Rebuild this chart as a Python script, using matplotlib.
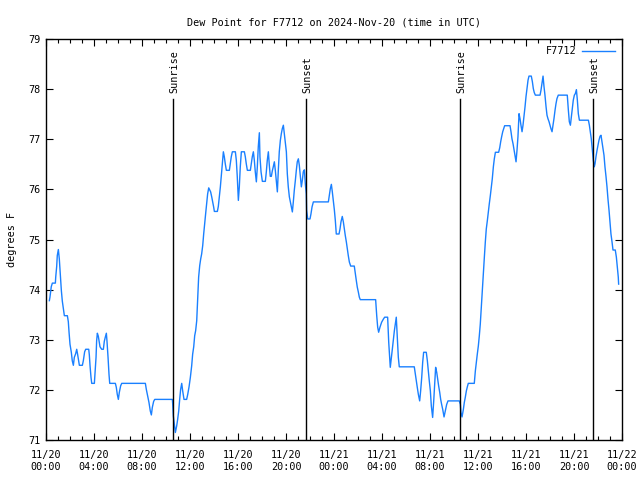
import matplotlib
matplotlib.use("Agg")
import matplotlib.pyplot as plt

# hours since 2024-11-20 00:00 UTC, dew point in deg F
hours = [
    0.28, 0.33, 0.44, 0.53, 0.78, 0.81, 0.89, 0.94, 1.03, 1.11, 1.19, 1.28, 1.36, 1.44, 1.53, 1.78,
    1.86, 1.92, 2.00, 2.11, 2.19, 2.28, 2.36, 2.47, 2.56, 2.64, 2.78, 3.03, 3.11, 3.22, 3.31, 3.56,
    3.61, 3.67, 3.75, 3.81, 4.03, 4.08, 4.17, 4.22, 4.28, 4.36, 4.42, 4.50, 4.64, 4.78, 4.86, 4.94,
    5.03, 5.08, 5.17, 5.25, 5.31, 5.78, 5.86, 5.94, 6.03, 6.11, 6.22, 6.31, 8.28, 8.36, 8.47, 8.58,
    8.69, 8.78, 8.86, 8.97, 9.06, 10.53, 10.56, 10.61, 10.78, 10.89, 10.97, 11.06, 11.14, 11.22, 11.31,
    11.39, 11.50, 11.72, 11.81, 11.92, 12.03, 12.14, 12.22, 12.31, 12.39, 12.47, 12.56, 12.64, 12.72,
    12.81, 12.89, 12.97, 13.06, 13.14, 13.22, 13.31, 13.39, 13.47, 13.56, 13.64, 13.72, 13.81, 13.89,
    13.97, 14.03, 14.28, 14.36, 14.44, 14.53, 14.61, 14.69, 14.78, 14.86, 14.94, 15.03, 15.28, 15.36,
    15.44, 15.53, 15.78, 15.86, 15.94, 16.03, 16.11, 16.19, 16.28, 16.53, 16.61, 16.69, 16.78, 17.03,
    17.11, 17.19, 17.28, 17.36, 17.44, 17.53, 17.61, 17.69, 17.78, 17.83, 17.92, 18.03, 18.28, 18.36,
    18.44, 18.53, 18.61, 18.69, 18.78, 18.86, 18.94, 19.03, 19.11, 19.19, 19.28, 19.36, 19.44, 19.53,
    19.61, 19.69, 19.78, 19.86, 19.94, 20.03, 20.11, 20.19, 20.28, 20.44, 20.53, 20.61, 20.69, 20.78,
    20.86, 20.94, 21.03, 21.11, 21.19, 21.28, 21.36, 21.44, 21.53, 21.61, 21.69, 21.72, 21.81, 22.00,
    22.08, 22.17, 22.28, 23.53, 23.61, 23.69, 23.78, 23.86, 23.94, 24.03, 24.11, 24.19, 24.42, 24.50,
    24.58, 24.69, 24.78, 24.86, 24.94, 25.03, 25.11, 25.19, 25.28, 25.39, 25.69, 25.78, 25.86, 25.94,
    26.03, 26.11, 26.19, 27.47, 27.56, 27.64, 27.72, 27.83, 27.97, 28.11, 28.22, 28.47, 28.56, 28.64,
    28.69, 28.78, 28.86, 28.94, 29.03, 29.11, 29.19, 29.28, 29.36, 29.44, 30.69, 30.78, 30.86, 30.94,
    31.03, 31.14, 31.22, 31.31, 31.39, 31.47, 31.69, 31.78, 31.86, 31.94, 32.03, 32.11, 32.22, 32.31,
    32.39, 32.47, 32.56, 32.64, 32.72, 32.81, 32.89, 32.97, 33.06, 33.17, 33.28, 33.39, 33.50, 34.44,
    34.53, 34.58, 34.67, 34.78, 34.86, 34.94, 35.03, 35.11, 35.19, 35.69, 35.78, 35.86, 35.94, 36.03,
    36.11, 36.19, 36.28, 36.36, 36.44, 36.53, 36.61, 36.69, 36.78, 36.86, 36.94, 37.03, 37.11, 37.19,
    37.28, 37.36, 37.45, 37.72, 37.81, 37.89, 37.97, 38.06, 38.14, 38.22, 38.67, 38.75, 38.83, 38.92,
    39.00, 39.08, 39.17, 39.25, 39.33, 39.42, 39.50, 39.58, 39.67, 39.75, 39.83, 39.92, 40.00, 40.08,
    40.17, 40.25, 40.44, 40.53, 40.61, 40.69, 40.78, 41.17, 41.25, 41.33, 41.42, 41.50, 41.58, 41.67,
    41.75, 41.83, 41.92, 42.00, 42.08, 42.17, 42.25, 42.33, 42.42, 42.50, 42.58, 42.69, 43.44, 43.53,
    43.61, 43.70, 43.78, 43.86, 43.94, 44.03, 44.11, 44.20, 44.28, 44.36, 44.45, 45.20, 45.28, 45.36,
    45.44, 45.53, 45.61, 45.69, 45.75, 45.83, 45.92, 46.00, 46.08, 46.17, 46.25, 46.33, 46.42, 46.50,
    46.58, 46.67, 46.75, 46.83, 46.92, 47.00, 47.08, 47.17, 47.25, 47.44, 47.53, 47.61, 47.69, 47.72,
]
dewpoint = [
    73.78, 73.85, 74.06, 74.13, 74.13, 74.25, 74.46, 74.68, 74.80, 74.61, 74.31, 73.98, 73.77, 73.63, 73.48, 73.48,
    73.36, 73.15, 72.91, 72.75, 72.58, 72.49, 72.65, 72.72, 72.81, 72.70, 72.49, 72.49, 72.58, 72.76, 72.81, 72.81,
    72.70, 72.48, 72.25, 72.13, 72.13, 72.31, 72.65, 72.98, 73.13, 73.07, 72.98, 72.86, 72.81, 72.81, 72.97, 73.05,
    73.13, 72.98, 72.65, 72.31, 72.13, 72.13, 72.05, 71.91, 71.81, 71.95, 72.08, 72.13, 72.13, 72.01, 71.88, 71.75,
    71.58, 71.50, 71.65, 71.77, 71.81, 71.81, 71.71, 71.48, 71.15, 71.28, 71.41, 71.58, 71.81, 72.01, 72.13,
    71.98, 71.81, 71.81, 71.91, 72.06, 72.25, 72.48, 72.71, 72.86, 73.08, 73.18, 73.38, 73.81, 74.25,
    74.48, 74.61, 74.71, 74.88, 75.11, 75.31, 75.53, 75.71, 75.91, 76.03, 75.99, 75.95, 75.85, 75.75,
    75.65, 75.56, 75.56, 75.66, 75.85, 76.05, 76.28, 76.51, 76.75, 76.65, 76.51, 76.38, 76.38, 76.51,
    76.65, 76.75, 76.75, 76.58, 76.25, 75.78, 76.05, 76.45, 76.75, 76.75, 76.65, 76.51, 76.38, 76.38,
    76.51, 76.65, 76.75, 76.58, 76.35, 76.15, 76.45, 76.85, 77.13, 76.65, 76.35, 76.16, 76.16, 76.35,
    76.58, 76.75, 76.48, 76.26, 76.26, 76.37, 76.45, 76.55, 76.38, 76.18, 75.95, 76.38, 76.75, 76.98,
    77.11, 77.21, 77.28, 77.11, 76.95, 76.75, 76.31, 76.05, 75.85, 75.66, 75.55, 75.75, 75.98, 76.18,
    76.38, 76.55, 76.61, 76.48, 76.28, 76.05, 76.18, 76.35, 76.39, 76.11, 75.91, 75.58, 75.41, 75.41,
    75.51, 75.65, 75.75, 75.75, 75.88, 76.01, 76.10, 75.95, 75.78, 75.59, 75.38, 75.11, 75.11, 75.21,
    75.35, 75.46, 75.35, 75.21, 75.08, 74.95, 74.81, 74.68, 74.55, 74.47, 74.47, 74.31, 74.18, 74.05,
    73.95, 73.85, 73.80, 73.80, 73.48, 73.25, 73.15, 73.25, 73.35, 73.41, 73.45, 73.45, 72.95, 72.65,
    72.45, 72.65, 72.81, 72.98, 73.18, 73.31, 73.45, 73.01, 72.65, 72.46, 72.46, 72.31, 72.18, 72.05,
    71.91, 71.78, 71.98, 72.25, 72.55, 72.75, 72.75, 72.58, 72.38, 72.18, 71.98, 71.68, 71.45, 71.78,
    72.11, 72.45, 72.35, 72.21, 72.08, 71.95, 71.81, 71.71, 71.61, 71.46, 71.58, 71.71, 71.78, 71.78,
    71.71, 71.55, 71.46, 71.61, 71.75, 71.85, 71.98, 72.06, 72.13, 72.13, 72.38, 72.55, 72.71, 72.88,
    73.08, 73.31, 73.65, 73.98, 74.31, 74.65, 74.95, 75.21, 75.38, 75.55, 75.71, 75.88, 76.05, 76.21,
    76.45, 76.61, 76.74, 76.74, 76.83, 76.95, 77.05, 77.15, 77.21, 77.27, 77.27, 77.15, 77.01, 76.91,
    76.79, 76.68, 76.55, 76.78, 77.05, 77.51, 77.41, 77.28, 77.15, 77.28, 77.45, 77.65, 77.85, 78.01,
    78.18, 78.26, 78.26, 78.15, 78.01, 77.93, 77.88, 77.88, 77.98, 78.11, 78.26, 78.05, 77.88, 77.65,
    77.48, 77.41, 77.35, 77.28, 77.21, 77.15, 77.28, 77.41, 77.58, 77.71, 77.81, 77.88, 77.88, 77.58,
    77.35, 77.28, 77.45, 77.61, 77.78, 77.88, 77.91, 77.99, 77.78, 77.51, 77.38, 77.38, 77.28, 77.15,
    77.01, 76.78, 76.58, 76.45, 76.51, 76.65, 76.78, 76.88, 76.98, 77.06, 77.08, 76.95, 76.81, 76.68,
    76.45, 76.25, 76.05, 75.81, 75.58, 75.35, 75.11, 74.95, 74.79, 74.79, 74.65, 74.45, 74.25, 74.11,
]

sun_times = [10.58, 21.67, 34.53, 45.62]
sun_labels = ["Sunrise", "Sunset", "Sunrise", "Sunset"]

tick_hours = list(range(0, 49, 4))
tick_labels = ["11/20\n00:00", "11/20\n04:00", "11/20\n08:00", "11/20\n12:00", "11/20\n16:00",
               "11/20\n20:00", "11/21\n00:00", "11/21\n04:00", "11/21\n08:00", "11/21\n12:00",
               "11/21\n16:00", "11/21\n20:00", "11/22\n00:00"]

plt.rcParams['font.family'] = ['DejaVu Sans Mono']
plt.rcParams['font.size'] = 7.3

fig = plt.figure(figsize=(6.4, 4.8), dpi=100)
ax = fig.add_axes([46 / 640, 40 / 480, 576 / 640, 401 / 480])

ax.plot(hours, dewpoint, color='#1a80ff', lw=1.0, label='F7712')

for t, lab in zip(sun_times, sun_labels):
    ax.plot([t, t], [71, 77.8], color='black', lw=1.0)
    ax.text(t + 0.1, 77.93, lab, rotation=90, ha='center', va='bottom')

ax.set_xlim(0, 48)
ax.set_ylim(71, 79)
ax.set_xticks(tick_hours)
ax.set_xticklabels(tick_labels, linespacing=1.25)
ax.set_xticks(range(0, 49), minor=True)
ax.set_yticks(range(71, 80))
ax.tick_params(which='both', direction='in', top=True, right=True, color='black', width=0.8)
ax.tick_params(axis='x', which='major', length=5, pad=7)
ax.tick_params(axis='y', which='major', length=5, pad=4)
ax.tick_params(which='minor', length=3)
for s in ax.spines.values():
    s.set_linewidth(1.0)

ax.set_ylabel('degrees F', labelpad=8, fontsize=7.3)
ax.set_title('Dew Point for F7712 on 2024-Nov-20 (time in UTC)', pad=10, fontsize=7.3)
ax.legend(loc='upper right', frameon=False, markerfirst=False, handlelength=3.2,
          borderaxespad=0.3, handletextpad=0.6)

fig.savefig('out.png', dpi=100)
